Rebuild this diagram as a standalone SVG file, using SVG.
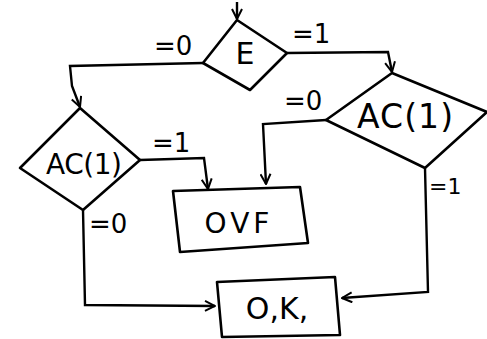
<svg xmlns="http://www.w3.org/2000/svg" width="487" height="339" viewBox="0 0 487 339">
<defs>
<marker id="ah" viewBox="0 0 12 12" refX="11" refY="6" markerWidth="12" markerHeight="12" markerUnits="userSpaceOnUse" orient="auto">
<path d="M1,1 L11,6 L1,11" fill="none" stroke="#000" stroke-width="2"/>
</marker>
<style>
.s{fill:#fff;stroke:#000;stroke-width:2.6;stroke-linejoin:round}
.c{fill:none;stroke:#000;stroke-width:2.4;marker-end:url(#ah)}
.t{font-family:"DejaVu Sans",sans-serif;fill:#000;text-anchor:middle}
.l{font-family:"DejaVu Sans",sans-serif;fill:#000;font-size:26px}
.n{font-size:22px}
</style>
</defs>
<rect width="487" height="339" fill="#fff"/>
<g id="connectors">
<path class="c" d="M237,2 L237,19"/>
<path class="c" d="M203,63 L70,66 L72,86 L80,107"/>
<path class="c" d="M287,53 L388,52 L392,72"/>
<path class="c" d="M140,160 L204,158 L208,189"/>
<path class="c" d="M326,120 L263,124 L266,184"/>
<path class="c" d="M83,210 L85,305 L215,306"/>
<path class="c" d="M425,168 L428,292 L342,298"/>
<text class="l" x="154" y="55">=0</text>
<text class="l" x="292" y="43">=1</text>
<text class="l" x="152" y="152">=1</text>
<text class="l" x="284" y="110">=0</text>
<text class="l" x="89" y="233">=0</text>
<text class="l n" x="429" y="194">=1</text>
</g>
<g id="nodeE">
<polygon class="s" points="237,20 287,53 250,90 203,63"/>
<text class="t" x="245" y="64" font-size="30">E</text>
</g>
<g id="nodeAC1left">
<polygon class="s" points="80,108 140,160 83,210 20,168"/>
<text class="t" x="84" y="174" font-size="28" textLength="76">AC(1)</text>
</g>
<g id="nodeAC1right">
<polygon class="s" points="392,73 487,112 425,168 326,120"/>
<text class="t" x="405" y="128" font-size="33" textLength="96">AC(1)</text>
</g>
<g id="nodeOVF">
<polygon class="s" points="173,191 300,187 308,243 180,252"/>
<text class="t" x="239" y="233" font-size="28" letter-spacing="4">OVF</text>
</g>
<g id="nodeOK">
<polygon class="s" points="217,282 335,277 340,335 222,337"/>
<text class="t" x="277" y="319" font-size="30">O,K,</text>
</g>
</svg>
